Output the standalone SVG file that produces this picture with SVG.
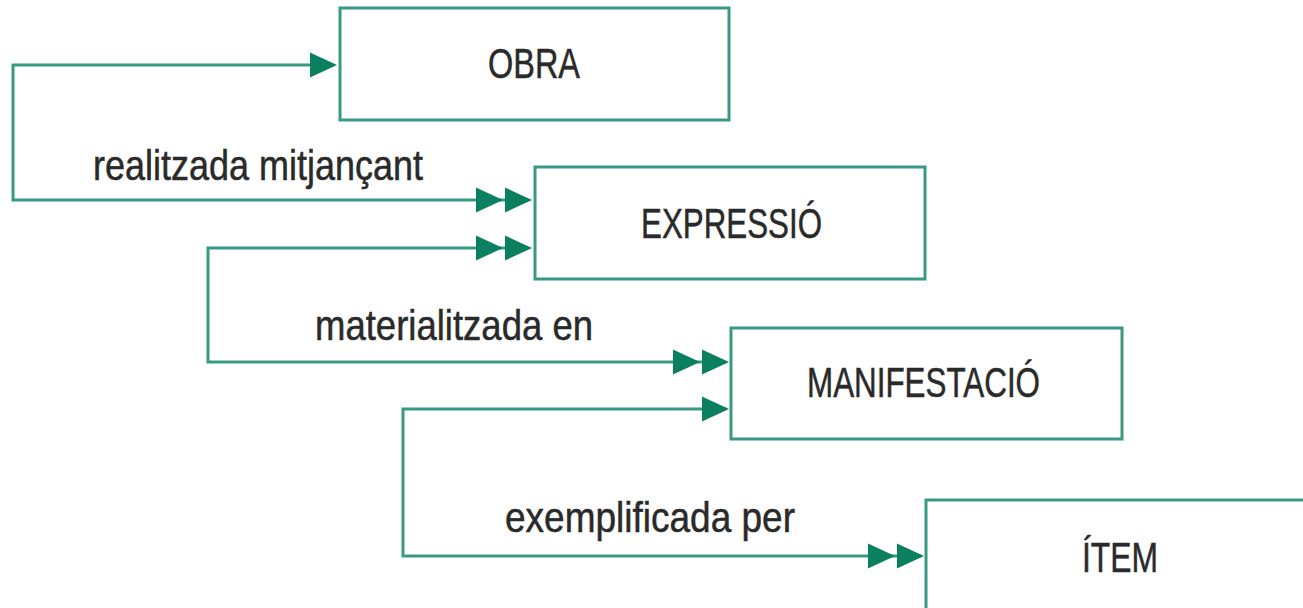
<svg xmlns="http://www.w3.org/2000/svg" xmlns:xlink="http://www.w3.org/1999/xlink" width="1303" height="608" viewBox="0 0 1303 608">
<style>
.box{fill:#fff;stroke:#3a9a80;stroke-width:3}
.ln{fill:none;stroke:#3a9a80;stroke-width:3}
.ah{fill:#0b8060}
.t{font-family:"Liberation Sans",Arial,sans-serif;font-size:42px;fill:#2a2a2a;stroke:#2a2a2a;stroke-width:0.5}
</style>
<defs>
<path id="ah" d="M0,0 L-27,-12.5 L-27,12.5 Z"/>
</defs>
<rect width="1303" height="608" fill="#fff"/>
<g id="connectors">
<path class="ln" d="M333 65 H13 V200 H528"/>
<use href="#ah" class="ah" x="337" y="65"/>
<use href="#ah" class="ah" x="503" y="200"/>
<use href="#ah" class="ah" x="532" y="200"/>
<text class="t" x="93" y="180" textLength="330" lengthAdjust="spacingAndGlyphs">realitzada mitjançant</text>

<path class="ln" d="M528 248 H208 V362 H726"/>
<use href="#ah" class="ah" x="503" y="248"/>
<use href="#ah" class="ah" x="532" y="248"/>
<use href="#ah" class="ah" x="700" y="362"/>
<use href="#ah" class="ah" x="729" y="362"/>
<text class="t" x="315" y="340" textLength="278" lengthAdjust="spacingAndGlyphs">materialitzada en</text>

<path class="ln" d="M726 409 H403 V556 H921"/>
<use href="#ah" class="ah" x="729" y="409"/>
<use href="#ah" class="ah" x="895" y="556"/>
<use href="#ah" class="ah" x="924" y="556"/>
<text class="t" x="505" y="532" textLength="290" lengthAdjust="spacingAndGlyphs">exemplificada per</text>
</g>
<g id="obra">
<rect class="box" x="340" y="8" width="389" height="112"/>
<text class="t" x="488" y="78" textLength="92" lengthAdjust="spacingAndGlyphs">OBRA</text>
</g>
<g id="expressio">
<rect class="box" x="535" y="167" width="390" height="112"/>
<text class="t" x="641" y="238" textLength="181" lengthAdjust="spacingAndGlyphs">EXPRESSIÓ</text>
</g>
<g id="manifestacio">
<rect class="box" x="731" y="328" width="391" height="111"/>
<text class="t" x="807" y="397" textLength="233" lengthAdjust="spacingAndGlyphs">MANIFESTACIÓ</text>
</g>
<g id="item">
<rect class="box" x="926" y="500" width="400" height="140"/>
<text class="t" x="1082" y="572" textLength="76" lengthAdjust="spacingAndGlyphs">ÍTEM</text>
</g>
</svg>
